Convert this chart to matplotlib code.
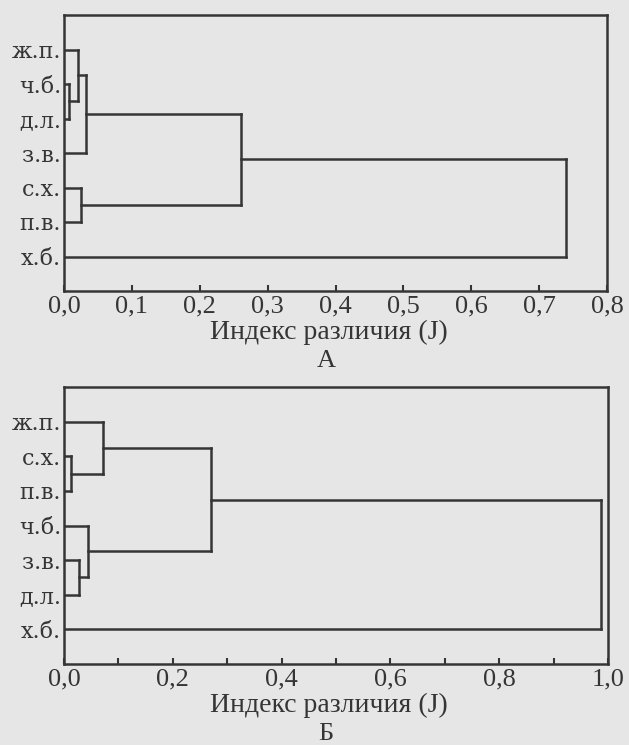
import matplotlib.pyplot as plt
import numpy as np

# leaves listed top to bottom; merges are (child, child, height),
# children 0-6 are leaves, 7+ are clusters in the order they were formed
labels_a = ["ж.п.", "ч.б.", "д.л.", "з.в.", "с.х.", "п.в.", "х.б."]
merges_a = [(1, 2, 0.008), (0, 7, 0.020), (8, 3, 0.032),
            (4, 5, 0.025), (9, 10, 0.261), (11, 6, 0.739)]

labels_b = ["ж.п.", "с.х.", "п.в.", "ч.б.", "з.в.", "д.л.", "х.б."]
merges_b = [(1, 2, 0.012), (0, 7, 0.072), (4, 5, 0.027),
            (3, 9, 0.045), (8, 10, 0.270), (11, 6, 0.988)]

xticks_a = [0.0, 0.1, 0.2, 0.3, 0.4, 0.5, 0.6, 0.7, 0.8]
xticks_b = [0.0, 0.2, 0.4, 0.6, 0.8, 1.0]
xlabel = "Индекс различия (J)"

ink = "#353535"
paper = "#e6e6e6"
W, H = 629, 745


def comma(v):
    return f"{v:.1f}".replace(".", ",")


def draw_tree(ax, labels, merges):
    n = len(labels)
    pos = list(range(1, n + 1))
    hgt = [0.0] * n
    for a, b, d in merges:
        for c in (a, b):
            ax.plot([hgt[c], d], [pos[c], pos[c]], color=ink, lw=1.8,
                    solid_capstyle="projecting")
        ax.plot([d, d], [pos[a], pos[b]], color=ink, lw=1.8,
                solid_capstyle="projecting")
        pos.append((pos[a] + pos[b]) / 2)
        hgt.append(d)
    ax.set_ylim(n + 1, 0)
    ax.set_yticks(range(1, n + 1))
    ax.set_yticklabels(labels, family="DejaVu Serif", fontsize=16, color=ink)
    ax.tick_params(axis="y", length=0, pad=2)


def style(ax, xmax, ticks, minor=None):
    ax.set_facecolor(paper)
    ax.set_xlim(0, xmax)
    ax.set_xticks(ticks)
    ax.set_xticklabels([comma(t) for t in ticks], family="Liberation Serif",
                       fontsize=19, color=ink)
    if minor is not None:
        ax.set_xticks(minor, minor=True)
    ax.tick_params(axis="x", which="both", direction="in", length=4,
                   width=1.5, color=ink, pad=3)
    for s in ax.spines.values():
        s.set_linewidth(1.8)
        s.set_color(ink)


fig = plt.figure(figsize=(W / 100, H / 100), dpi=100, facecolor=paper)

ax1 = fig.add_axes([64 / W, 1 - 291 / H, 543 / W, 276 / H])
draw_tree(ax1, labels_a, merges_a)
style(ax1, 0.8, xticks_a)

ax2 = fig.add_axes([64 / W, 1 - 664 / H, 544 / W, 277 / H])
draw_tree(ax2, labels_b, merges_b)
style(ax2, 1.0, xticks_b, minor=[0.1, 0.3, 0.5, 0.7, 0.9])

for base, letter in ((339, "А"), (712, "Б")):
    fig.text(329 / W, 1 - base / H, xlabel, ha="center", va="baseline",
             family="Liberation Serif", fontsize=20, color=ink)
    fig.text(326 / W, 1 - (base + 28) / H, letter, ha="center", va="baseline",
             family="Liberation Serif", fontsize=19, color=ink)

fig.savefig("out.png", dpi=100, facecolor=paper)
